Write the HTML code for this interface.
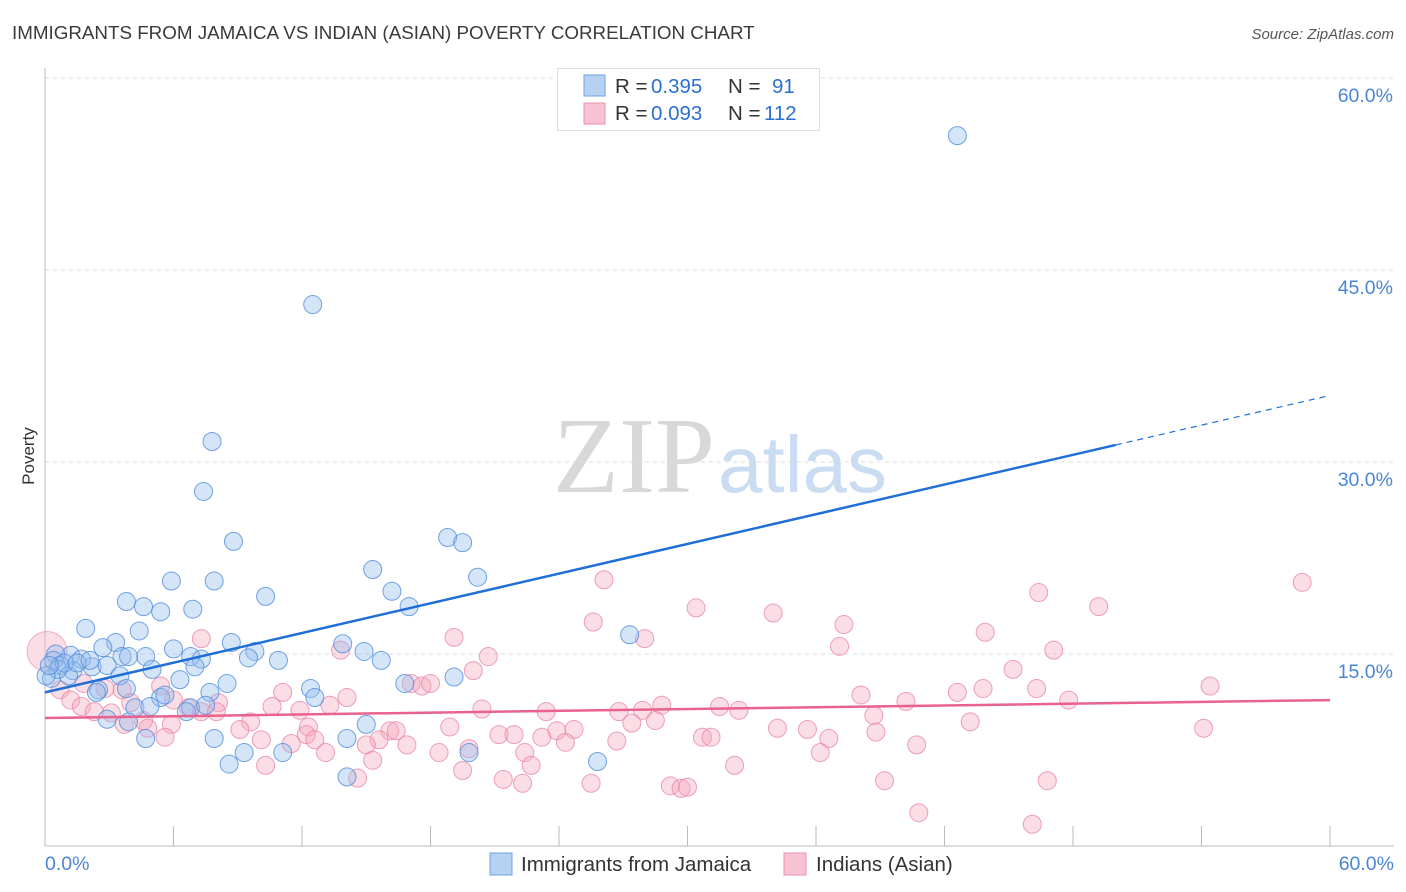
<!DOCTYPE html>
<html><head><meta charset="utf-8"><style>
body{margin:0;background:#fff;font-family:"Liberation Sans",sans-serif;}
svg{display:block}
</style></head><body>
<svg id="chart" width="1406" height="892">
<text x="12" y="39" font-size="18.8" fill="#3a3a3a">IMMIGRANTS FROM JAMAICA VS INDIAN (ASIAN) POVERTY CORRELATION CHART</text>
<text x="1394" y="39" font-size="15" fill="#555" font-style="italic" text-anchor="end">Source: ZipAtlas.com</text>
<g>
<text x="553" y="492" font-family="Liberation Serif,serif" font-size="108" fill="#d8d8d8">ZIP</text>
<text x="718" y="492" font-size="80" fill="#c9dcf2">atlas</text>
</g>
<g id="grid"></g>
<g id="pts"></g>
<g id="trend"></g>
<text x="34" y="456" font-size="17" fill="#333" text-anchor="middle" transform="rotate(-90 34 456)">Poverty</text>
<g>
<rect x="557.5" y="68.5" width="262" height="62" fill="#fff" stroke="#ddd"/>
<rect x="584" y="75" width="21" height="21" fill="#b7d1f3" stroke="#6ea2e4"/>
<rect x="584" y="103" width="21" height="21" fill="#f7c3d2" stroke="#ea8fab"/>
<text x="615" y="93" font-size="20.5" fill="#333">R = <tspan x="651" fill="#2b6fd1">0.395</tspan></text>
<text x="728" y="93" font-size="20.5" fill="#333">N = <tspan x="772" fill="#2b6fd1">91</tspan></text>
<text x="615" y="120" font-size="20.5" fill="#333">R = <tspan x="651" fill="#2b6fd1">0.093</tspan></text>
<text x="728" y="120" font-size="20.5" fill="#333">N = <tspan x="764" fill="#2b6fd1">112</tspan></text>
</g>
<g>
<rect x="490" y="853" width="22" height="22" fill="#b7d1f3" stroke="#6ea2e4"/>
<text x="521" y="871" font-size="20.5" fill="#333">Immigrants from Jamaica</text>
<rect x="784" y="853" width="22" height="22" fill="#f7c3d2" stroke="#ea8fab"/>
<text x="816" y="871" font-size="20.5" fill="#333">Indians (Asian)</text>
</g>
</svg>
<script>
const yTicks=[15,30,45,60];
const yTickLabels=["15.0%","30.0%","45.0%","60.0%"];
const xTicks=[0,6,12,18,24,30,36,42,48,54,60];
const xEndLabels=["0.0%","60.0%"];
const blueX=[42.6,12.5,7.8,7.4,8.8,18.8,19.5,15.3,20.2,5.9,7.9,16.2,10.3,3.8,4.6,6.9,5.4,17.0,4.4,1.9,27.3,3.3,2.7,6.0,8.7,13.9,9.8,14.9,4.7,1.2,6.8,7.3,9.5,3.6,10.9,15.7,3.9,0.5,1.7,2.2,2.9,1.3,0.4,0.7,5.0,6.3,3.5,7.0,8.5,7.7,2.5,3.8,2.4,0.3,1.1,12.4,12.6,16.8,19.1,5.4,5.6,6.8,7.5,4.2,4.9,2.9,3.9,6.6,15.0,14.1,4.7,7.9,9.3,8.6,11.1,19.8,14.1,25.8,0.6,0.9,1.5,2.1,0.05,0.2];
const blueY=[55.5,42.3,31.6,27.7,23.8,24.1,23.7,21.6,21.0,20.7,20.7,19.9,19.5,19.1,18.7,18.5,18.3,18.7,16.8,17.0,16.5,15.9,15.5,15.4,15.9,15.8,15.2,15.2,14.8,14.9,14.8,14.6,14.7,14.8,14.5,14.5,14.8,15.0,14.6,14.0,14.1,13.7,14.5,14.1,13.8,13.0,13.3,14.0,12.7,12.0,12.2,12.3,12.0,13.1,13.3,12.3,11.6,12.7,13.2,11.6,11.8,10.8,11.0,10.8,10.9,9.9,9.7,10.5,9.5,8.4,8.4,8.4,7.3,6.4,7.3,7.3,5.4,6.6,13.8,14.3,14.3,14.5,13.3,14.1];
const pinkX=[58.7,26.1,46.4,49.2,30.4,34.0,25.6,37.3,43.9,28.0,37.1,7.3,19.1,47.1,20.7,13.8,45.2,20.0,17.1,17.6,18.0,54.4,11.1,38.1,42.6,47.8,40.2,43.8,14.1,46.3,6.0,3.6,2.8,1.8,0.7,1.2,1.7,2.3,3.1,4.0,5.4,8.1,6.7,7.3,8.0,10.6,11.9,13.3,20.4,23.4,26.8,27.9,28.8,31.5,32.4,27.4,28.5,38.7,43.2,54.1,9.6,12.3,16.1,16.4,18.9,21.2,21.9,23.2,23.9,24.7,9.1,5.9,4.8,3.7,4.6,12.2,12.6,11.5,16.9,15.6,15.0,10.1,13.1,18.4,19.8,22.4,24.3,26.7,30.7,31.1,34.2,35.6,36.6,38.8,40.7,36.2,32.2,15.3,10.3,22.7,19.5,21.4,22.3,25.5,29.2,29.7,30.0,39.2,46.8,40.8,46.1,14.6,5.6];
const pinkY=[20.6,20.8,19.8,18.7,18.6,18.2,17.5,17.3,16.7,16.2,15.6,16.2,16.3,15.3,14.8,15.3,13.8,13.7,12.7,12.5,12.7,12.5,12.0,11.8,12.0,11.4,11.3,12.3,11.6,12.3,11.4,12.2,12.3,12.7,12.2,11.4,10.9,10.5,10.4,11.2,12.5,11.2,10.8,10.5,10.5,10.9,10.6,11.0,10.7,10.5,10.5,10.6,11.0,10.9,10.6,9.6,9.8,10.2,9.7,9.2,9.7,9.3,9.0,9.0,9.3,8.7,8.7,8.5,9.0,9.1,9.1,9.5,9.2,9.5,9.8,8.7,8.3,8.0,7.9,8.3,7.9,8.3,7.3,7.3,7.6,7.3,8.1,8.2,8.5,8.5,9.2,9.1,8.4,8.9,7.9,7.3,6.3,6.7,6.3,6.3,5.9,5.2,4.9,4.9,4.7,4.5,4.6,5.1,5.1,2.6,1.7,5.3,8.5];
const bigPink=[0.1,15.2];
const blueTrendX=[0,60];
const blueTrendY=[12.0,35.2];
const blueSolidEnd=50;
const pinkTrendX=[0,60];
const pinkTrendY=[10.0,11.4];

const NS="http://www.w3.org/2000/svg";
function sx(v){return 45+v*(1330-45)/60;}
function sy(v){return 846-v*12.8;}
function mk(tag,attrs,parent){const e=document.createElementNS(NS,tag);for(const k in attrs)e.setAttribute(k,attrs[k]);parent.appendChild(e);return e;}
const grid=document.getElementById('grid');
yTicks.forEach((t,i)=>{
  const l=mk('line',{x1:45,x2:1394,y1:sy(t),y2:sy(t),stroke:'#dcdcdc','stroke-dasharray':'4,4'},grid);
  
  
  const tx=mk('text',{x:1393,y:sy(t)+24,'font-size':19.5,fill:'#4a86d8','text-anchor':'end'},grid);
  tx.textContent=yTickLabels[i];
  
  
});
const ax=mk('line',{x1:45,x2:45,y1:68,y2:846,stroke:'#bbb'},grid);


const bx=mk('line',{x1:45,x2:1394,y1:846,y2:846,stroke:'#bbb'},grid);


xTicks.forEach(t=>{
  const l=mk('line',{x1:sx(t),x2:sx(t),y1:826,y2:846,stroke:'#bbb'},grid);
  
  
});
const xl0=mk('text',{x:45,y:870,'font-size':19.5,fill:'#4a86d8'},grid);xl0.textContent=xEndLabels[0];


const xl1=mk('text',{x:1394,y:870,'font-size':19.5,fill:'#4a86d8','text-anchor':'end'},grid);xl1.textContent=xEndLabels[1];



const pts=document.getElementById('pts');
pinkX.forEach((x,i)=>{
  const c=mk('circle',{cx:sx(x),cy:sy(pinkY[i]),r:9,fill:'rgba(244,170,192,0.4)',stroke:'rgba(232,130,162,0.75)','stroke-width':1},pts);
  
  
});
const bp=mk('circle',{cx:sx(bigPink[0]),cy:sy(bigPink[1]),r:20,fill:'rgba(244,170,192,0.4)',stroke:'rgba(232,130,162,0.6)'},pts);


blueX.forEach((x,i)=>{
  const c=mk('circle',{cx:sx(x),cy:sy(blueY[i]),r:9,fill:'rgba(150,190,238,0.4)',stroke:'rgba(80,140,220,0.8)','stroke-width':1},pts);
  
  
});
const tr=document.getElementById('trend');
function lineAt(xs,ys,x){return ys[0]+(ys[1]-ys[0])*(x-xs[0])/(xs[1]-xs[0]);}
const b1=mk('line',{x1:sx(blueTrendX[0]),y1:sy(blueTrendY[0]),x2:sx(blueSolidEnd),y2:sy(lineAt(blueTrendX,blueTrendY,blueSolidEnd)),stroke:'#1f6fd6','stroke-width':2.5},tr);


const b2=mk('line',{x1:sx(blueSolidEnd),y1:sy(lineAt(blueTrendX,blueTrendY,blueSolidEnd)),x2:sx(blueTrendX[1]),y2:sy(blueTrendY[1]),stroke:'#1f6fd6','stroke-width':1.2,'stroke-dasharray':'6,5'},tr);


const p1=mk('line',{x1:sx(pinkTrendX[0]),y1:sy(pinkTrendY[0]),x2:sx(pinkTrendX[1]),y2:sy(pinkTrendY[1]),stroke:'#e8628d','stroke-width':2.5},tr);


</script>
</body></html>
